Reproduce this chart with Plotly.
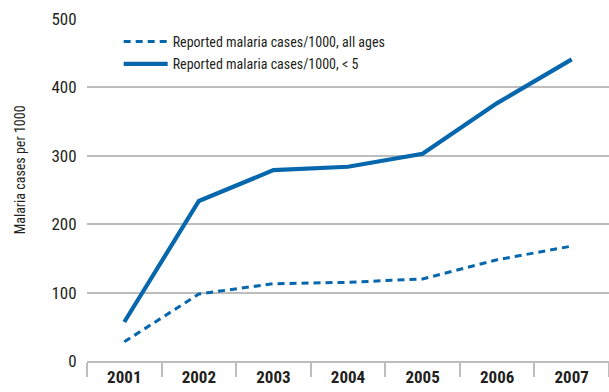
import plotly.graph_objects as go

years = ["2001", "2002", "2003", "2004", "2005", "2006", "2007"]
all_ages = [28, 98, 113, 115, 120, 148, 168]
under_five = [57, 234, 279, 284, 303, 377, 441]
y_ticks = [0, 100, 200, 300, 400, 500]

name_all = "Reported malaria cases/1000, all ages"
name_u5 = "Reported malaria cases/1000, < 5"
y_title = "Malaria cases per 1000"

BLUE = "#0767ad"
GRID = "#bdbdbd"
FONT = "Roboto Condensed, DejaVu Sans Condensed, sans-serif"
TEXT = "#231f20"

fig = go.Figure()
fig.add_trace(go.Scatter(x=years, y=all_ages, mode="lines", name=name_all,
                         legendgroup="a",
                         line=dict(color=BLUE, width=3, dash="7px,5px")))
fig.add_trace(go.Scatter(x=years, y=under_five, mode="lines", name=name_u5,
                         legendgroup="b",
                         line=dict(color=BLUE, width=4.2)))

fig.update_layout(
    width=609, height=392,
    margin=dict(l=87, r=0, t=19, b=31),
    paper_bgcolor="white", plot_bgcolor="white",
    font=dict(family=FONT, color=TEXT, size=15),
    showlegend=True,
    legend=dict(x=0.0607, y=0.9795, xanchor="left", yanchor="top",
                bgcolor="rgba(0,0,0,0)", borderwidth=0,
                font=dict(size=14, family=FONT, color=TEXT),
                itemwidth=44, traceorder="grouped", tracegroupgap=1),
    xaxis=dict(type="category", range=[-0.5, 6.5], showgrid=False,
               showline=True, linecolor=GRID, linewidth=1.5,
               ticks="outside", tickson="boundaries", ticklen=14,
               tickcolor=GRID, tickwidth=1.5,
               tickfont=dict(size=17, family=FONT, color=TEXT, weight="bold"),
               automargin=False, fixedrange=True),
    yaxis=dict(range=[0, 500], tickvals=y_ticks, showgrid=True,
               gridcolor=GRID, gridwidth=1.5, zeroline=False, showline=False,
               ticks="outside", ticklen=6, tickcolor="rgba(0,0,0,0)",
               tickfont=dict(size=17, family=FONT, color=TEXT),
               automargin=False, fixedrange=True),
    annotations=[dict(text=y_title, textangle=-90, xref="paper", yref="paper",
                      x=-0.128, y=0.558, xanchor="center", yanchor="middle",
                      showarrow=False,
                      font=dict(size=14, family=FONT, color=TEXT))],
)

fig.write_html("out.html", config={"displayModeBar": False},
               post_script="document.body.style.margin='0';")
